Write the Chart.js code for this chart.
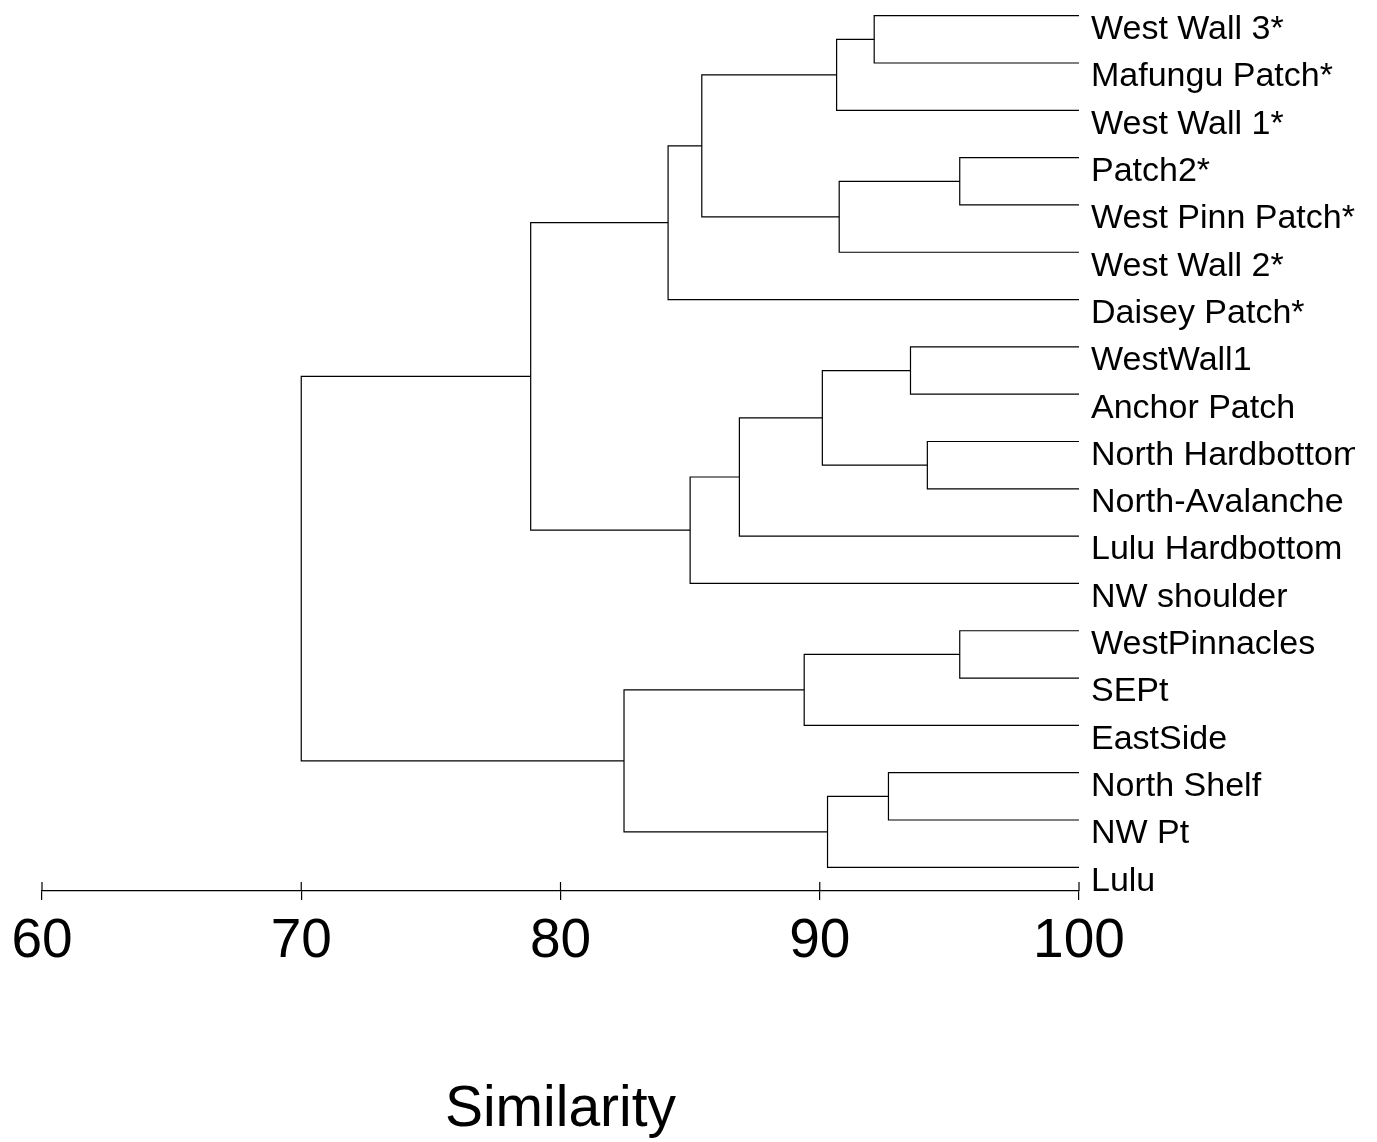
<!DOCTYPE html>
<html>
<head>
<meta charset="utf-8">
<title>Similarity dendrogram</title>
<script src="https://cdn.jsdelivr.net/npm/chart.js@4/dist/chart.umd.min.js"></script>
<style>
  html, body { margin: 0; padding: 0; background: #fff; }
  canvas { display: block; }
</style>
</head>
<body>
<canvas id="dendro" width="1377" height="1142"></canvas>
<script>
// --- Data ---
const leafLabels = [
  'West Wall 3*', 'Mafungu Patch*', 'West Wall 1*', 'Patch2*', 'West Pinn Patch*',
  'West Wall 2*', 'Daisey Patch*', 'WestWall1', 'Anchor Patch', 'North Hardbottom',
  'North-Avalanche', 'Lulu Hardbottom', 'NW shoulder', 'WestPinnacles', 'SEPt',
  'EastSide', 'North Shelf', 'NW Pt', 'Lulu'
];

// merge k creates node 19 + k (leaves are nodes 0..18)
const mergeLeft  = [3, 13, 9, 7, 16, 0, 19, 24, 23, 22, 20, 28, 26, 30, 31, 29, 33, 35];
const mergeRight = [4, 14, 10, 8, 17, 1, 5, 2, 18, 21, 15, 11, 25, 12, 6, 27, 32, 34];
const mergeSimilarity = [95.4, 95.4, 94.15, 93.5, 92.65, 92.1, 90.75, 90.65, 90.3, 90.1,
  89.4, 86.9, 85.45, 85.0, 84.15, 82.45, 78.85, 70.0];

const xTicks = [60, 70, 80, 90, 100];

const FONT = '"Liberation Sans", Arial, sans-serif';

// --- Build the tree links ---
const nodeY = leafLabels.map((_, i) => i);
const nodeSim = leafLabels.map(() => 100);

const datasets = [];
mergeSimilarity.forEach((s, k) => {
  const a = mergeLeft[k];
  const b = mergeRight[k];
  datasets.push({
    data: [
      { x: nodeSim[a], y: nodeY[a] },
      { x: s, y: nodeY[a] },
      { x: s, y: nodeY[b] },
      { x: nodeSim[b], y: nodeY[b] }
    ],
    showLine: true,
    borderColor: '#000',
    borderWidth: 1.2,
    pointRadius: 0,
    fill: false,
    clip: false
  });
  nodeY.push((nodeY[a] + nodeY[b]) / 2);
  nodeSim.push(s);
});

// --- Leaf labels + upper half of the tick marks ---
const extrasPlugin = {
  id: 'extras',
  afterDraw(chart) {
    const { ctx, scales: { x, y } } = chart;
    ctx.save();
    // ticks crossing the axis line
    ctx.strokeStyle = '#000';
    ctx.lineWidth = 1.2;
    xTicks.forEach(t => {
      const px = x.getPixelForValue(t);
      ctx.beginPath();
      ctx.moveTo(px, chart.chartArea.bottom - 9);
      ctx.lineTo(px, chart.chartArea.bottom);
      ctx.stroke();
    });
    // labels, cut at the right edge like the original
    ctx.beginPath();
    ctx.rect(0, 0, 1355, chart.height);
    ctx.clip();
    ctx.fillStyle = '#000';
    ctx.font = '34px ' + FONT;
    ctx.textAlign = 'left';
    ctx.textBaseline = 'middle';
    const lx = x.getPixelForValue(100) + 12;
    leafLabels.forEach((lab, i) => {
      ctx.fillText(lab, lx, y.getPixelForValue(i) + 14);
    });
    ctx.restore();
  }
};

// --- Chart ---
new Chart(document.getElementById('dendro').getContext('2d'), {
  type: 'scatter',
  data: { datasets },
  plugins: [extrasPlugin],
  options: {
    responsive: false,
    animation: false,
    layout: { padding: { left: 42, right: 298, top: 0, bottom: 0 } },
    plugins: {
      legend: { display: false },
      tooltip: { enabled: false }
    },
    scales: {
      x: {
        type: 'linear',
        min: 60,
        max: 100,
        afterBuildTicks: axis => { axis.ticks = xTicks.map(v => ({ value: v })); },
        afterFit: axis => { axis.height = 251; },
        border: { display: true, color: '#000', width: 1.2 },
        grid: { drawOnChartArea: false, drawTicks: true, tickLength: 9, color: '#000', lineWidth: 1.2 },
        ticks: {
          color: '#000',
          padding: 9,
          maxRotation: 0,
          font: { family: FONT, size: 55, lineHeight: 1.2 }
        },
        title: {
          display: true,
          text: 'Similarity',
          color: '#000',
          padding: { top: 0, bottom: 0 },
          font: { family: FONT, size: 57, lineHeight: 1.1 }
        }
      },
      y: {
        type: 'linear',
        display: false,
        reverse: true,
        min: -0.332,
        max: 18.501
      }
    }
  }
});
</script>
</body>
</html>
